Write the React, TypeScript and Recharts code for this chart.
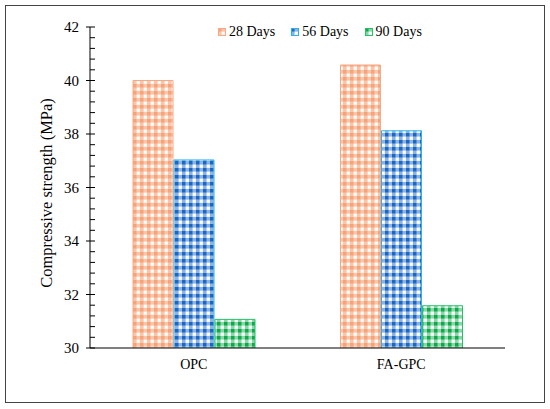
import React from "react";
import { BarChart, Bar, XAxis, YAxis } from "recharts";

const categories = ["OPC", "FA-GPC"];
const days28 = [40.0, 40.58];
const days56 = [37.03, 38.12];
const days90 = [31.07, 31.58];
const majorTicks = [30, 32, 34, 36, 38, 40, 42];

const minorTicks = majorTicks.flatMap((v, i) =>
  i === majorTicks.length - 1 ? [v] : [v, v + 0.4, v + 0.8, v + 1.2, v + 1.6]
);

const data = categories.map((name, i) => ({
  name,
  d28: days28[i],
  d56: days56[i],
  d90: days90[i],
}));

const FONT = "Times New Roman, Liberation Serif, DejaVu Serif, serif";

const series = [
  { key: "d28", label: "28 Days", id: "pat28", stroke: "#F7A884", dark: "#F6A27B", mid: "#FAC6AA", light: "#FEECE0" },
  { key: "d56", label: "56 Days", id: "pat56", stroke: "#2BB3E6", dark: "#1A68C2", mid: "#8DB3E6", light: "#E6EEF9" },
  { key: "d90", label: "90 Days", id: "pat90", stroke: "#26C06A", dark: "#13A64E", mid: "#86D9A5", light: "#E4F7EA" },
];

function Patterns() {
  return (
    <svg width={0} height={0} style={{ position: "absolute" }}>
      <defs>
        {series.map((s) => (
          <pattern key={s.id} id={s.id} width={7} height={7} patternUnits="userSpaceOnUse">
            <rect x={0} y={0} width={7} height={7} fill={s.light} />
            <rect x={0} y={0} width={7} height={3.5} fill={s.mid} />
            <rect x={0} y={0} width={3.5} height={7} fill={s.mid} />
            <rect x={0} y={0} width={3.5} height={3.5} fill={s.dark} />
            <rect x={4} y={4} width={2.5} height={2.5} fill="#ffffff" />
          </pattern>
        ))}
      </defs>
    </svg>
  );
}

const YTick = (props: any) => {
  const { x, y, payload } = props;
  const v = payload.value;
  const r = Math.round(v);
  const major = Math.abs(v - r) < 1e-6 && r % 2 === 0;
  return (
    <g>
      <line x1={major ? x - 4 : x} x2={x + 5} y1={y} y2={y} stroke="#000" strokeWidth={1} />
      {major && (
        <text x={x - 11} y={y} dy="0.35em" textAnchor="end" fontSize={15} style={{ fontFamily: FONT }} fill="#000">
          {r}
        </text>
      )}
    </g>
  );
};

const YLabel = () => (
  <text
    x={46}
    y={193}
    transform="rotate(-90 46 193)"
    textAnchor="middle"
    dominantBaseline="central"
    fontSize={16.5}
    style={{ fontFamily: FONT }}
    fill="#000"
  >
    Compressive strength (MPa)
  </text>
);

export default function App() {
  return (
    <div style={{ position: "absolute", left: 0, top: 0, width: 550, height: 409, background: "#fff", fontFamily: FONT }}>
      <Patterns />
      <div
        style={{
          position: "absolute",
          left: 5,
          top: 5,
          width: 540,
          height: 398,
          border: "1.5px solid #444",
          boxSizing: "border-box",
        }}
      />
      <div
        style={{
          position: "absolute",
          left: 218,
          top: 24,
          display: "flex",
          alignItems: "center",
          gap: 16,
          fontFamily: FONT,
          fontSize: 14,
          lineHeight: "16px",
          color: "#000",
        }}
      >
        {series.map((s) => (
          <div key={s.key} style={{ display: "flex", alignItems: "center", gap: 3 }}>
            <svg width={8} height={8}>
              <rect x={0.5} y={0.5} width={7} height={7} fill={`url(#${s.id})`} stroke={s.stroke} strokeWidth={1} />
            </svg>
            <span>{s.label}</span>
          </div>
        ))}
      </div>
      <div style={{ position: "absolute", left: 0, top: 0 }}>
        <BarChart
          width={550}
          height={409}
          data={data}
          margin={{ top: 27, right: 45, bottom: 31, left: 30 }}
          barSize={40}
          barGap={1}
          style={{ fontFamily: FONT }}
        >
          <XAxis
            dataKey="name"
            height={30}
            axisLine={{ stroke: "#000", strokeWidth: 1 }}
            tickLine={false}
            tickSize={0}
            tickMargin={11}
            tick={{ fontSize: 14, fill: "#000", style: { fontFamily: FONT } }}
          />
          <YAxis
            width={60}
            domain={[30, 42]}
            ticks={minorTicks}
            interval={0}
            allowDataOverflow
            axisLine={{ stroke: "#000", strokeWidth: 1 }}
            tickLine={false}
            tickSize={0}
            tickMargin={0}
            tick={<YTick />}
            label={{ content: <YLabel /> }}
          />
          {series.map((s) => (
            <Bar
              key={s.key}
              dataKey={s.key}
              fill={`url(#${s.id})`}
              stroke={s.stroke}
              strokeWidth={1}
              isAnimationActive={false}
            />
          ))}
        </BarChart>
      </div>
    </div>
  );
}
